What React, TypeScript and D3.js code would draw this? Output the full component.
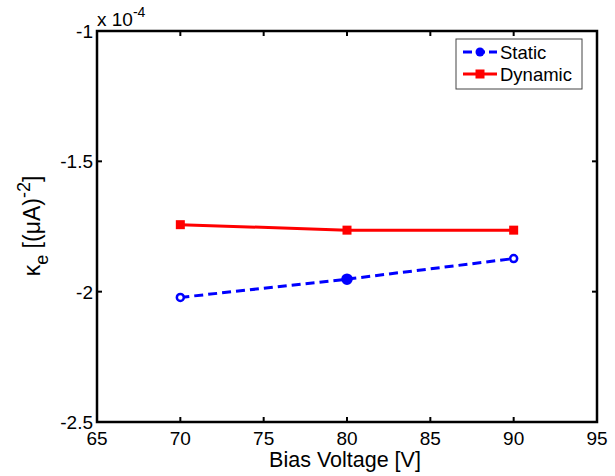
import React, { useEffect, useRef } from "react";
import * as d3 from "d3";

// values (y in units of 1e-4)
const voltages = [70, 80, 90];
const staticVals = [-2.022, -1.952, -1.873];
const dynamicVals = [-1.743, -1.764, -1.764];
const xTicks = [65, 70, 75, 80, 85, 90, 95];
const yTicks = [-1, -1.5, -2, -2.5];
const seriesNames = ["Static", "Dynamic"];

const W = 615, H = 476;
const margin = { top: 31, right: 18, bottom: 54, left: 97 };
const font = "Arial, 'Liberation Sans', sans-serif";

export default function App() {
  const ref = useRef<SVGSVGElement>(null);

  useEffect(() => {
    const svg = d3.select(ref.current);
    svg.selectAll("*").remove();
    const w = W - margin.left - margin.right;
    const h = H - margin.top - margin.bottom;

    const x = d3.scaleLinear().domain([65, 95]).range([0, w]);
    const y = d3.scaleLinear().domain([-2.5, -1]).range([h, 0]);

    const g = svg.append("g").attr("transform", `translate(${margin.left},${margin.top})`);

    // tick labels
    g.selectAll(".xl").data(xTicks).join("text")
      .attr("x", d => x(d)).attr("y", h + 23)
      .attr("text-anchor", "middle").attr("font-size", 19).attr("font-family", font)
      .text(d => d);
    g.selectAll(".yl").data(yTicks).join("text")
      .attr("x", -4).attr("y", d => y(d) + 7)
      .attr("text-anchor", "end").attr("font-size", 19).attr("font-family", font)
      .text(d => d);

    // inward ticks on all four sides
    const tl = 5;
    xTicks.forEach(t => {
      g.append("line").attr("x1", x(t)).attr("x2", x(t)).attr("y1", h).attr("y2", h - tl).attr("stroke", "#000").attr("stroke-width", 2);
      g.append("line").attr("x1", x(t)).attr("x2", x(t)).attr("y1", 0).attr("y2", tl).attr("stroke", "#000").attr("stroke-width", 2);
    });
    yTicks.forEach(t => {
      g.append("line").attr("x1", 0).attr("x2", tl).attr("y1", y(t)).attr("y2", y(t)).attr("stroke", "#000").attr("stroke-width", 2);
      g.append("line").attr("x1", w).attr("x2", w - tl).attr("y1", y(t)).attr("y2", y(t)).attr("stroke", "#000").attr("stroke-width", 2);
    });

    g.append("rect").attr("width", w).attr("height", h)
      .attr("fill", "none").attr("stroke", "#000").attr("stroke-width", 2.5);

    const line = d3.line<number>().x((_, i) => x(voltages[i])).y(d => y(d));

    // dynamic (red, solid, squares)
    g.append("path").datum(dynamicVals).attr("d", line)
      .attr("fill", "none").attr("stroke", "#ff0000").attr("stroke-width", 3);
    g.selectAll(".sq").data(dynamicVals).join("rect")
      .attr("x", (_, i) => x(voltages[i]) - 4.5).attr("y", d => y(d) - 4.5)
      .attr("width", 9).attr("height", 9).attr("fill", "#ff0000");

    // static (blue, dashed, circles)
    g.append("path").datum(staticVals).attr("d", line)
      .attr("fill", "none").attr("stroke", "#0000ff").attr("stroke-width", 3)
      .attr("stroke-dasharray", "9,5");
    g.selectAll(".ci").data(staticVals).join("circle")
      .attr("cx", (_, i) => x(voltages[i])).attr("cy", d => y(d))
      .attr("r", (_, i) => (i === 1 ? 4.5 : 3.5))
      .attr("fill", (_, i) => (i === 1 ? "#0000ff" : "#fff"))
      .attr("stroke", "#0000ff").attr("stroke-width", 2.5);

    // exponent label
    g.append("text").attr("x", 0).attr("y", -5).attr("font-size", 19).attr("font-family", font)
      .text("x 10")
      .append("tspan").attr("dy", -9).attr("font-size", 14).text("-4");

    // axis labels
    svg.append("text").attr("x", margin.left + w / 2 - 2).attr("y", H - 9)
      .attr("text-anchor", "middle").attr("font-size", 21.5).attr("font-family", font)
      .text("Bias Voltage [V]");
    const yl = svg.append("text")
      .attr("transform", `translate(40,226) rotate(-90)`)
      .attr("text-anchor", "middle").attr("font-size", 23).attr("font-family", font);
    yl.append("tspan").text("κ");
    yl.append("tspan").attr("dy", 8).attr("font-size", 18).text("e");
    yl.append("tspan").attr("dy", -8).text(" [(μA)");
    yl.append("tspan").attr("dy", -10).attr("font-size", 18).text("-2");
    yl.append("tspan").attr("dy", 10).text("]");

    // legend
    const lg = svg.append("g").attr("transform", "translate(456,39)");
    lg.append("rect").attr("width", 126).attr("height", 50)
      .attr("fill", "#fff").attr("stroke", "#444").attr("stroke-width", 1);
    const items = [
      { color: "#0000ff", dash: "9,4", marker: "circle" },
      { color: "#ff0000", dash: null, marker: "square" },
    ];
    items.forEach((it, i) => {
      const cy = 13 + i * 22;
      const ln = lg.append("line").attr("x1", 7).attr("x2", 41).attr("y1", cy).attr("y2", cy)
        .attr("stroke", it.color).attr("stroke-width", 3);
      if (it.dash) ln.attr("stroke-dasharray", it.dash);
      if (it.marker === "circle") {
        lg.append("circle").attr("cx", 24).attr("cy", cy).attr("r", 4.5).attr("fill", it.color);
      } else {
        lg.append("rect").attr("x", 19.5).attr("y", cy - 4.5).attr("width", 9).attr("height", 9).attr("fill", it.color);
      }
      lg.append("text").attr("x", 44).attr("y", cy + 6.5).attr("font-size", 18.5).attr("font-family", font)
        .text(seriesNames[i]);
    });
  }, []);

  return (
    <svg ref={ref} width={W} height={H}
      style={{ position: "absolute", left: 0, top: 0, background: "#fff" }} />
  );
}
